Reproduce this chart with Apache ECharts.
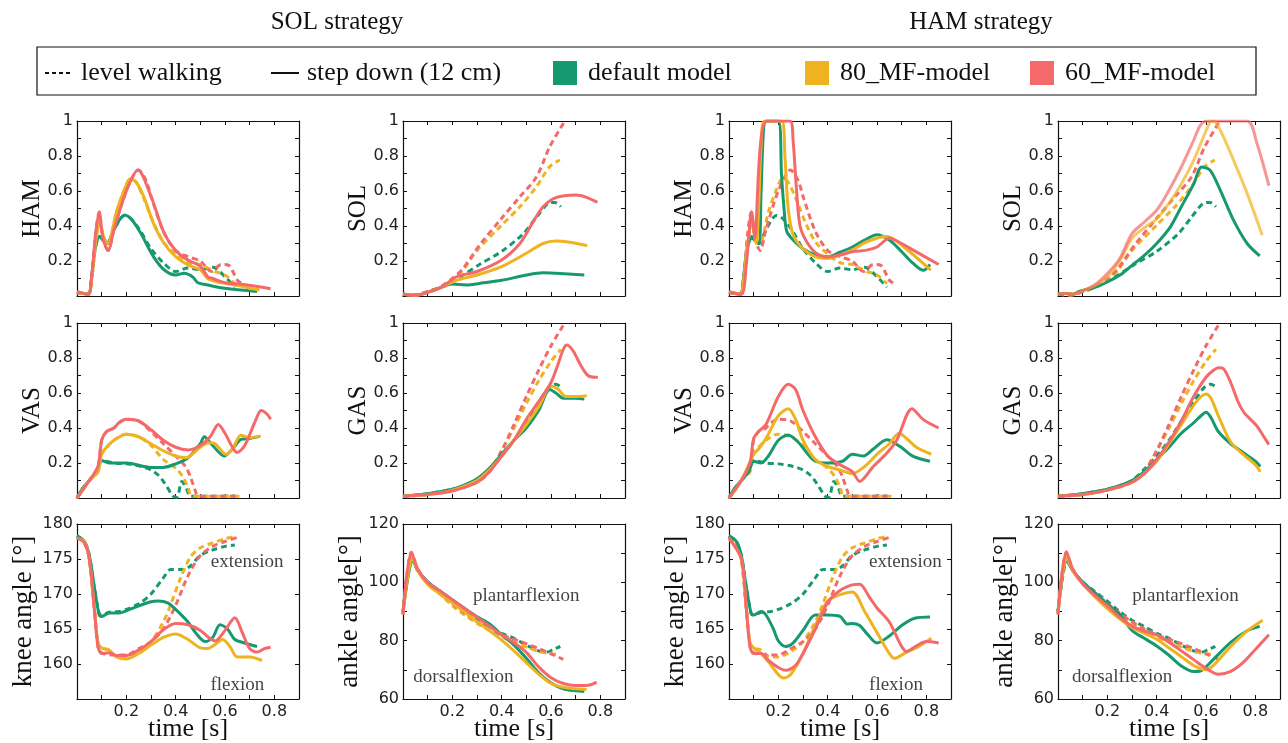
<!DOCTYPE html>
<html>
<head>
<meta charset="utf-8">
<script src="https://cdn.jsdelivr.net/npm/echarts@6/dist/echarts.min.js"></script>
<style>
  html, body { margin: 0; padding: 0; background: #fff; }
  #chart { width: 1288px; height: 743px; }
</style>
</head>
<body>
<div id="chart"></div>
<script>
// models and their colours
const models = ['default model', '80_MF-model', '60_MF-model'];
const colors = ['#16996f', '#efb320', '#f46a6a'];

// ---- level walking (same in both strategies) : [time s, value]
const lwHamDef = [[0,0.02],[0.045,0.01],[0.06,0.1],[0.075,0.28],[0.092,0.34],[0.11,0.31],[0.122,0.3],[0.15,0.38],[0.193,0.46],[0.22,0.44],[0.258,0.37],[0.3,0.27],[0.35,0.19],[0.4,0.14],[0.45,0.16],[0.5,0.15],[0.55,0.165],[0.6,0.11],[0.64,0.05]];
const lwHam80 = [[0,0.02],[0.045,0.01],[0.06,0.1],[0.075,0.3],[0.092,0.42],[0.11,0.33],[0.125,0.3],[0.16,0.48],[0.19,0.6],[0.217,0.67],[0.24,0.65],[0.27,0.56],[0.31,0.42],[0.35,0.31],[0.4,0.24],[0.45,0.19],[0.5,0.18],[0.53,0.16],[0.56,0.14],[0.6,0.12],[0.64,0.07]];
const lwHam60 = [[0,0.025],[0.045,0.01],[0.06,0.12],[0.075,0.35],[0.09,0.48],[0.105,0.33],[0.126,0.26],[0.15,0.38],[0.2,0.6],[0.25,0.72],[0.28,0.66],[0.3,0.57],[0.35,0.37],[0.4,0.26],[0.45,0.225],[0.5,0.2],[0.545,0.14],[0.585,0.18],[0.615,0.175],[0.65,0.09],[0.67,0.07]];

const lwSolDef = [[0,0.01],[0.05,0.005],[0.1,0.025],[0.15,0.05],[0.2,0.085],[0.244,0.12],[0.31,0.18],[0.4,0.255],[0.487,0.355],[0.541,0.45],[0.59,0.53],[0.615,0.535],[0.64,0.51]];
const lwSol80 = [[0,0.01],[0.05,0.005],[0.1,0.025],[0.15,0.05],[0.2,0.09],[0.244,0.15],[0.3,0.26],[0.4,0.405],[0.474,0.51],[0.541,0.625],[0.595,0.74],[0.636,0.777]];
const lwSol60 = [[0,0.01],[0.05,0.005],[0.1,0.025],[0.15,0.05],[0.2,0.1],[0.244,0.158],[0.31,0.29],[0.4,0.444],[0.474,0.567],[0.541,0.68],[0.595,0.853],[0.656,1.0]];

const lwVasDef = [[0,0],[0.02,0.05],[0.05,0.1],[0.08,0.15],[0.1,0.215],[0.15,0.2],[0.2,0.195],[0.26,0.18],[0.3,0.16],[0.33,0.13],[0.355,0.085],[0.39,0.01],[0.405,0.005],[0.425,0.095],[0.445,0.05],[0.46,0.01],[0.55,0.01],[0.64,0.012]];
const lwVas80 = [[0,0],[0.05,0.1],[0.085,0.15],[0.1,0.25],[0.12,0.29],[0.15,0.33],[0.2,0.365],[0.25,0.35],[0.3,0.3],[0.35,0.22],[0.4,0.17],[0.43,0.12],[0.45,0.06],[0.465,0.012],[0.55,0.01],[0.66,0.01]];
const lwVas60 = [[0,0],[0.05,0.1],[0.085,0.18],[0.1,0.33],[0.12,0.38],[0.15,0.4],[0.17,0.43],[0.2,0.45],[0.25,0.44],[0.3,0.38],[0.35,0.31],[0.4,0.24],[0.44,0.18],[0.46,0.12],[0.48,0.04],[0.49,0.012],[0.55,0.01],[0.66,0.01]];

const lwGasDef = [[0,0.01],[0.1,0.025],[0.2,0.05],[0.25,0.07],[0.3,0.1],[0.35,0.165],[0.4,0.24],[0.45,0.33],[0.5,0.44],[0.55,0.55],[0.595,0.635],[0.62,0.65],[0.64,0.635]];
const lwGas80 = [[0,0.01],[0.1,0.02],[0.2,0.045],[0.3,0.09],[0.35,0.15],[0.4,0.27],[0.45,0.4],[0.5,0.54],[0.55,0.67],[0.6,0.78],[0.64,0.85]];
const lwGas60 = [[0,0.01],[0.1,0.02],[0.2,0.045],[0.3,0.09],[0.35,0.15],[0.4,0.27],[0.45,0.42],[0.5,0.58],[0.55,0.73],[0.6,0.87],[0.656,1.0]];

const lwKneeDef = [[0,178.3],[0.03,177.5],[0.05,175.5],[0.07,171],[0.09,167.2],[0.1,167],[0.13,167.4],[0.17,167.5],[0.2,167.8],[0.25,168.6],[0.3,170],[0.35,172.3],[0.38,173.5],[0.43,173.5],[0.46,174],[0.5,175.5],[0.55,176.3],[0.6,176.8],[0.64,177]];
const lwKnee80 = [[0,178.2],[0.03,177.5],[0.05,175],[0.07,168],[0.085,163],[0.1,162.3],[0.13,162],[0.16,161.1],[0.2,161],[0.25,161.8],[0.3,163.2],[0.35,166],[0.38,168.5],[0.42,172.3],[0.46,175.3],[0.5,176.6],[0.55,177.3],[0.6,177.9],[0.64,178.2]];
const lwKnee60 = [[0,178.2],[0.03,177.3],[0.05,175],[0.07,168],[0.085,162.5],[0.1,161.6],[0.15,161.3],[0.2,161.3],[0.25,162.2],[0.3,163.2],[0.35,165],[0.4,168.4],[0.45,172.6],[0.5,175.5],[0.55,176.8],[0.6,177.5],[0.66,178.2]];

const lwAnkleDef = [[0,90],[0.038,107.8],[0.06,104],[0.1,100.2],[0.15,96.8],[0.2,93.5],[0.25,90],[0.3,87],[0.35,84.8],[0.4,82.5],[0.45,80.8],[0.5,78.5],[0.55,76.5],[0.58,76],[0.61,77],[0.638,78]];
const lwAnkle80 = [[0,89.5],[0.036,108.5],[0.06,104],[0.1,99.8],[0.15,96],[0.2,92],[0.25,88.8],[0.3,86],[0.35,83.5],[0.4,81.3],[0.45,79.5],[0.5,77.8],[0.55,76.3],[0.6,75.5],[0.636,75.2]];
const lwAnkle60 = [[0,89],[0.034,110.3],[0.06,104.5],[0.1,100],[0.15,96.5],[0.2,92.8],[0.25,89.5],[0.3,86.5],[0.35,84],[0.4,82],[0.45,80.5],[0.5,79],[0.55,77.3],[0.6,75.5],[0.65,73.6]];

// ---- step down, SOL strategy
const solHamDef = [[0,0.02],[0.045,0.01],[0.06,0.12],[0.075,0.28],[0.092,0.34],[0.122,0.3],[0.15,0.38],[0.193,0.463],[0.22,0.44],[0.258,0.36],[0.31,0.225],[0.353,0.15],[0.4,0.12],[0.434,0.13],[0.468,0.11],[0.49,0.076],[0.53,0.063],[0.6,0.044],[0.73,0.025]];
const solHam80 = [[0,0.02],[0.045,0.01],[0.06,0.1],[0.075,0.3],[0.092,0.415],[0.11,0.33],[0.125,0.3],[0.16,0.48],[0.19,0.6],[0.217,0.67],[0.24,0.65],[0.27,0.57],[0.31,0.415],[0.353,0.3],[0.4,0.225],[0.45,0.177],[0.5,0.15],[0.53,0.1],[0.57,0.08],[0.64,0.063],[0.74,0.034]];
const solHam60 = [[0,0.025],[0.045,0.01],[0.06,0.12],[0.075,0.35],[0.09,0.48],[0.105,0.33],[0.126,0.26],[0.15,0.38],[0.2,0.6],[0.247,0.72],[0.3,0.57],[0.353,0.36],[0.4,0.26],[0.45,0.205],[0.5,0.17],[0.53,0.11],[0.55,0.1],[0.6,0.076],[0.65,0.07],[0.72,0.057],[0.785,0.042]];

const solSolDef = [[0,0.01],[0.05,0.004],[0.108,0.025],[0.162,0.053],[0.2,0.068],[0.257,0.063],[0.31,0.072],[0.4,0.09],[0.5,0.12],[0.568,0.133],[0.62,0.13],[0.735,0.12]];
const solSol80 = [[0,0.01],[0.05,0.004],[0.108,0.025],[0.162,0.053],[0.217,0.09],[0.3,0.12],[0.4,0.168],[0.5,0.244],[0.568,0.3],[0.62,0.314],[0.677,0.307],[0.747,0.288]];
const solSol60 = [[0,0.01],[0.05,0.004],[0.108,0.025],[0.162,0.055],[0.217,0.11],[0.3,0.14],[0.4,0.206],[0.474,0.3],[0.528,0.425],[0.568,0.51],[0.62,0.562],[0.7,0.577],[0.744,0.564],[0.788,0.535]];

const solVasDef = [[0,0],[0.02,0.05],[0.05,0.1],[0.08,0.15],[0.1,0.215],[0.13,0.2],[0.2,0.2],[0.3,0.175],[0.35,0.175],[0.4,0.195],[0.45,0.23],[0.5,0.31],[0.516,0.35],[0.55,0.3],[0.597,0.24],[0.63,0.28],[0.665,0.335],[0.7,0.34],[0.74,0.352]];
const solVas80 = [[0,0],[0.05,0.1],[0.085,0.15],[0.1,0.25],[0.12,0.29],[0.15,0.33],[0.2,0.365],[0.25,0.35],[0.3,0.31],[0.35,0.27],[0.4,0.24],[0.44,0.23],[0.5,0.29],[0.535,0.316],[0.56,0.31],[0.604,0.25],[0.63,0.28],[0.665,0.358],[0.7,0.345],[0.745,0.355]];
const solVas60 = [[0,0],[0.05,0.1],[0.085,0.18],[0.1,0.33],[0.12,0.38],[0.15,0.4],[0.17,0.43],[0.2,0.45],[0.25,0.44],[0.3,0.39],[0.35,0.33],[0.4,0.29],[0.45,0.275],[0.5,0.3],[0.54,0.35],[0.573,0.42],[0.6,0.37],[0.63,0.29],[0.649,0.26],[0.68,0.3],[0.72,0.43],[0.747,0.5],[0.77,0.48],[0.785,0.45]];

const solGasDef = [[0,0.01],[0.1,0.025],[0.2,0.05],[0.25,0.075],[0.3,0.11],[0.35,0.17],[0.4,0.25],[0.45,0.33],[0.5,0.4],[0.55,0.5],[0.595,0.62],[0.62,0.6],[0.65,0.57],[0.7,0.57],[0.735,0.565]];
const solGas80 = [[0,0.01],[0.1,0.02],[0.2,0.045],[0.3,0.1],[0.35,0.16],[0.4,0.24],[0.45,0.33],[0.5,0.42],[0.55,0.52],[0.6,0.64],[0.63,0.62],[0.66,0.58],[0.7,0.58],[0.745,0.585]];
const solGas60 = [[0,0.01],[0.1,0.02],[0.2,0.04],[0.3,0.09],[0.35,0.15],[0.4,0.24],[0.45,0.33],[0.5,0.45],[0.55,0.55],[0.6,0.66],[0.625,0.75],[0.65,0.85],[0.665,0.875],[0.69,0.84],[0.72,0.76],[0.75,0.7],[0.78,0.69],[0.79,0.69]];

const solKneeDef = [[0,178.3],[0.03,177.5],[0.05,175.5],[0.07,171],[0.09,167],[0.1,166.8],[0.13,167.3],[0.17,167.3],[0.2,167.6],[0.25,168.3],[0.3,168.9],[0.33,169],[0.37,168.7],[0.4,167.8],[0.45,166],[0.48,164.5],[0.52,163.2],[0.55,163.8],[0.58,165.6],[0.61,165],[0.64,163.5],[0.68,163],[0.73,162.5]];
const solKnee80 = [[0,178],[0.03,177.5],[0.05,175],[0.07,168],[0.085,163],[0.1,162.3],[0.13,162],[0.16,161],[0.2,160.7],[0.25,161.5],[0.3,162.7],[0.35,163.8],[0.4,164.3],[0.45,163.5],[0.5,162.3],[0.53,162.2],[0.56,162.8],[0.59,163.5],[0.62,162.5],[0.65,161],[0.7,161],[0.75,160.5]];
const solKnee60 = [[0,178],[0.03,177.3],[0.05,175],[0.07,168],[0.085,162.5],[0.1,161.5],[0.13,161.6],[0.16,161.2],[0.2,161.2],[0.25,162],[0.3,163.2],[0.35,164.9],[0.4,165.8],[0.45,165.6],[0.5,164.8],[0.54,163.6],[0.56,163.3],[0.6,164.8],[0.64,166.6],[0.67,164.5],[0.7,162.2],[0.73,161.7],[0.76,162.2],[0.785,162.4]];

const solAnkleDef = [[0,90],[0.04,107.5],[0.06,104],[0.1,100.2],[0.15,97],[0.2,94],[0.25,91],[0.3,88.2],[0.35,85.8],[0.4,82],[0.45,78.5],[0.5,74],[0.55,69],[0.6,65.5],[0.65,63.5],[0.7,62.8],[0.735,62.6]];
const solAnkle80 = [[0,89],[0.038,108.5],[0.06,104],[0.1,99.3],[0.15,96],[0.2,93],[0.25,89.8],[0.3,86.5],[0.35,83.5],[0.4,80.2],[0.45,76.5],[0.5,72.5],[0.55,68.5],[0.6,65.3],[0.65,64],[0.7,63.5],[0.745,63.3]];
const solAnkle60 = [[0,89],[0.034,110.3],[0.06,104.5],[0.1,100],[0.15,97],[0.2,94],[0.25,91],[0.3,88],[0.35,85],[0.4,82],[0.45,79.3],[0.5,76],[0.55,71],[0.6,67.3],[0.65,65.3],[0.7,64.6],[0.75,64.7],[0.785,65.8]];

// ---- step down, HAM strategy
const hamHamDef = [[0,0.02],[0.045,0.01],[0.06,0.12],[0.075,0.28],[0.092,0.33],[0.12,0.3],[0.13,0.6],[0.14,0.95],[0.15,1],[0.2,1],[0.213,0.69],[0.223,0.5],[0.234,0.37],[0.26,0.32],[0.3,0.27],[0.35,0.234],[0.4,0.224],[0.45,0.25],[0.5,0.28],[0.55,0.32],[0.6,0.35],[0.65,0.32],[0.7,0.253],[0.747,0.186],[0.788,0.147],[0.815,0.18]];
const hamHam80 = [[0,0.02],[0.045,0.01],[0.06,0.1],[0.075,0.3],[0.092,0.42],[0.11,0.3],[0.12,0.5],[0.13,0.85],[0.145,1],[0.213,1],[0.227,0.79],[0.24,0.5],[0.26,0.35],[0.3,0.27],[0.35,0.224],[0.4,0.215],[0.45,0.234],[0.5,0.262],[0.558,0.31],[0.64,0.34],[0.7,0.29],[0.818,0.148]];
const hamHam60 = [[0,0.023],[0.05,0.01],[0.07,0.18],[0.092,0.48],[0.105,0.33],[0.119,0.69],[0.132,0.92],[0.153,1],[0.247,1],[0.26,0.885],[0.274,0.6],[0.288,0.4],[0.315,0.31],[0.355,0.243],[0.4,0.224],[0.45,0.234],[0.5,0.253],[0.558,0.262],[0.6,0.28],[0.65,0.33],[0.7,0.3],[0.747,0.262],[0.85,0.18]];

const hamSolDef = [[0,0.01],[0.03,0.015],[0.06,0.01],[0.088,0.027],[0.15,0.05],[0.2,0.08],[0.25,0.118],[0.3,0.175],[0.35,0.232],[0.4,0.3],[0.455,0.394],[0.5,0.51],[0.55,0.64],[0.583,0.737],[0.617,0.718],[0.658,0.604],[0.712,0.432],[0.767,0.3],[0.818,0.229]];
const hamSol80 = [[0,0.01],[0.03,0.015],[0.06,0.01],[0.1,0.03],[0.15,0.06],[0.2,0.108],[0.25,0.2],[0.3,0.33],[0.35,0.39],[0.4,0.44],[0.45,0.53],[0.5,0.64],[0.55,0.775],[0.59,0.91],[0.617,0.994],[0.63,1],[0.658,0.947],[0.712,0.775],[0.767,0.585],[0.828,0.347]];
const hamSol60 = [[0,0.01],[0.03,0.015],[0.06,0.01],[0.1,0.03],[0.15,0.065],[0.2,0.128],[0.25,0.213],[0.3,0.356],[0.35,0.423],[0.4,0.49],[0.45,0.604],[0.5,0.737],[0.55,0.89],[0.577,0.975],[0.604,1],[0.767,1],[0.807,0.87],[0.855,0.63]];

const hamVasDef = [[0,0],[0.02,0.05],[0.05,0.1],[0.08,0.15],[0.1,0.21],[0.13,0.2],[0.16,0.24],[0.2,0.33],[0.24,0.36],[0.28,0.32],[0.32,0.25],[0.35,0.21],[0.4,0.2],[0.46,0.21],[0.5,0.25],[0.545,0.24],[0.585,0.28],[0.64,0.333],[0.693,0.295],[0.747,0.238],[0.815,0.21]];
const hamVas80 = [[0,0],[0.05,0.1],[0.1,0.25],[0.12,0.28],[0.15,0.34],[0.2,0.47],[0.24,0.51],[0.27,0.45],[0.3,0.33],[0.35,0.22],[0.4,0.18],[0.45,0.16],[0.5,0.14],[0.55,0.18],[0.6,0.25],[0.65,0.31],[0.69,0.37],[0.72,0.34],[0.76,0.29],[0.82,0.25]];
const hamVas60 = [[0,0],[0.05,0.1],[0.085,0.2],[0.1,0.34],[0.12,0.38],[0.15,0.42],[0.2,0.58],[0.24,0.65],[0.27,0.62],[0.3,0.5],[0.35,0.35],[0.4,0.24],[0.45,0.19],[0.5,0.15],[0.53,0.095],[0.585,0.18],[0.64,0.257],[0.68,0.33],[0.742,0.51],[0.788,0.448],[0.85,0.4]];

const hamGasDef = [[0,0.01],[0.1,0.025],[0.2,0.05],[0.3,0.1],[0.35,0.15],[0.4,0.22],[0.45,0.29],[0.5,0.37],[0.55,0.43],[0.58,0.47],[0.6,0.49],[0.62,0.46],[0.65,0.38],[0.7,0.31],[0.75,0.26],[0.8,0.21],[0.82,0.18]];
const hamGas80 = [[0,0.01],[0.1,0.02],[0.2,0.045],[0.3,0.09],[0.35,0.14],[0.4,0.21],[0.45,0.31],[0.5,0.42],[0.55,0.53],[0.58,0.58],[0.6,0.595],[0.62,0.57],[0.65,0.47],[0.7,0.32],[0.75,0.25],[0.8,0.19],[0.82,0.15]];
const hamGas60 = [[0,0.01],[0.1,0.02],[0.2,0.045],[0.3,0.09],[0.35,0.14],[0.4,0.22],[0.45,0.32],[0.5,0.44],[0.55,0.58],[0.6,0.69],[0.63,0.73],[0.65,0.745],[0.67,0.74],[0.7,0.66],[0.73,0.55],[0.753,0.49],[0.78,0.45],[0.807,0.41],[0.83,0.36],[0.855,0.305]];

const hamKneeDef = [[0,178.3],[0.03,177.5],[0.05,175.5],[0.07,171],[0.09,167.2],[0.1,167],[0.13,167.5],[0.15,167],[0.18,165],[0.2,163.3],[0.23,162.5],[0.26,163],[0.3,164.8],[0.35,167],[0.4,167],[0.45,166.8],[0.48,165.7],[0.5,165.8],[0.53,165.5],[0.56,164.3],[0.6,163],[0.65,164],[0.7,165.5],[0.75,166.5],[0.815,166.7]];
const hamKnee80 = [[0,178],[0.05,175],[0.07,168],[0.085,163],[0.1,162.3],[0.13,161.5],[0.16,160.3],[0.2,158.5],[0.22,158],[0.25,158.5],[0.3,161.5],[0.35,165.5],[0.4,169],[0.45,169.9],[0.5,170.3],[0.55,167.5],[0.6,164.5],[0.65,161.5],[0.67,160.8],[0.72,161.7],[0.77,162.5],[0.82,163.7]];
const hamKnee60 = [[0,178],[0.05,175],[0.07,168],[0.085,162.5],[0.1,161.5],[0.13,161.5],[0.16,160.5],[0.2,159.5],[0.23,159.1],[0.27,159.8],[0.3,161.5],[0.35,165],[0.4,168.8],[0.45,170.5],[0.5,171.3],[0.53,171.4],[0.57,169.5],[0.6,168],[0.65,166],[0.7,162.5],[0.72,161.8],[0.76,162.6],[0.8,163.2],[0.85,163]];

const hamAnkleDef = [[0,90],[0.035,107.5],[0.06,104],[0.1,100],[0.15,96.3],[0.2,92.5],[0.25,89],[0.3,83.5],[0.35,80.8],[0.4,78.2],[0.45,75],[0.5,71.3],[0.55,69.4],[0.577,69.6],[0.63,73.6],[0.7,79.4],[0.767,83.4],[0.818,84.9]];
const hamAnkle80 = [[0,89.5],[0.035,108.5],[0.06,104],[0.1,99.5],[0.15,95],[0.2,91],[0.25,87.5],[0.3,84.5],[0.35,82.5],[0.4,80.5],[0.45,77.5],[0.5,74.5],[0.55,71.5],[0.6,70],[0.63,71.5],[0.7,78],[0.77,83.5],[0.83,87]];
const hamAnkle60 = [[0,89],[0.034,110.5],[0.06,104.5],[0.1,99.5],[0.15,95.5],[0.2,92],[0.25,88],[0.3,85],[0.35,83.3],[0.4,82],[0.45,79.5],[0.5,76.5],[0.55,73.5],[0.6,70.5],[0.65,68.5],[0.7,69.5],[0.75,72.5],[0.8,77],[0.855,82]];

// text notes inside the joint-angle panels: [text, time, value]
const kneeNotes = [['extension', 0.69, 174.5], ['flexion', 0.65, 157]];
const ankleNotes = [['plantarflexion', 0.5, 95.3], ['dorsalflexion', 0.245, 67.7]];

const panels = [
  { name: 'HAM', lw: [lwHamDef, lwHam80, lwHam60], sd: [solHamDef, solHam80, solHam60] },
  { name: 'SOL', lw: [lwSolDef, lwSol80, lwSol60], sd: [solSolDef, solSol80, solSol60] },
  { name: 'HAM', lw: [lwHamDef, lwHam80, lwHam60], sd: [hamHamDef, hamHam80, hamHam60] },
  { name: 'SOL', lw: [lwSolDef, lwSol80, lwSol60], sd: [hamSolDef, hamSol80, hamSol60], fade: true },
  { name: 'VAS', lw: [lwVasDef, lwVas80, lwVas60], sd: [solVasDef, solVas80, solVas60] },
  { name: 'GAS', lw: [lwGasDef, lwGas80, lwGas60], sd: [solGasDef, solGas80, solGas60] },
  { name: 'VAS', lw: [lwVasDef, lwVas80, lwVas60], sd: [hamVasDef, hamVas80, hamVas60] },
  { name: 'GAS', lw: [lwGasDef, lwGas80, lwGas60], sd: [hamGasDef, hamGas80, hamGas60] },
  { name: 'knee angle [°]', lw: [lwKneeDef, lwKnee80, lwKnee60], sd: [solKneeDef, solKnee80, solKnee60], kind: 'knee', notes: kneeNotes },
  { name: 'ankle angle[°]', lw: [lwAnkleDef, lwAnkle80, lwAnkle60], sd: [solAnkleDef, solAnkle80, solAnkle60], kind: 'ankle', notes: ankleNotes },
  { name: 'knee angle [°]', lw: [lwKneeDef, lwKnee80, lwKnee60], sd: [hamKneeDef, hamKnee80, hamKnee60], kind: 'knee', notes: [['extension', 0.715, 174.5], ['flexion', 0.677, 157]] },
  { name: 'ankle angle[°]', lw: [lwAnkleDef, lwAnkle80, lwAnkle60], sd: [hamAnkleDef, hamAnkle80, hamAnkle60], kind: 'ankle', notes: [['plantarflexion', 0.517, 95.3], ['dorsalflexion', 0.26, 67.7]] }
];

const colLeft = [77, 403, 729, 1058];
const rowTop = [121, 323, 524];
const W = 222, H = 175;
const SERIF = '"Liberation Serif", "DejaVu Serif", serif';
const SANS = '"DejaVu Sans", sans-serif';
const ink = '#111';

const yScales = {
  act: { min: 0, max: 1, interval: 0.1, fmt: v => { const k = Math.round(v * 10); return k === 10 ? '1' : (k > 0 && k % 2 === 0 ? (k / 10).toFixed(1) : ''); } },
  knee: { min: 155, max: 180, interval: 5, fmt: v => (v > 155 ? String(v) : '') },
  ankle: { min: 60, max: 120, interval: 10, fmt: v => (v % 20 === 0 ? String(v) : '') }
};

const option = {
  animation: false,
  backgroundColor: '#fff',
  grid: [], xAxis: [], yAxis: [], series: [], legend: [],
  graphic: [
    { type: 'text', x: 337, y: 22, style: { text: 'SOL strategy', font: '25px ' + SERIF, fill: ink, align: 'center', verticalAlign: 'middle' } },
    { type: 'text', x: 981, y: 22, style: { text: 'HAM strategy', font: '25px ' + SERIF, fill: ink, align: 'center', verticalAlign: 'middle' } },
    { type: 'rect', shape: { x: 37, y: 47, width: 1219, height: 48 }, style: { fill: 'none', stroke: ink, lineWidth: 1.2 } }
  ]
};

const boxLine = { show: true, onZero: false, lineStyle: { color: ink, width: 1.2 } };
const tick = { show: true, inside: true, length: 4, lineStyle: { color: ink, width: 1 } };

panels.forEach((p, i) => {
  const row = Math.floor(i / 4), col = i % 4;
  const bottom = row === 2;
  const ys = yScales[p.kind || 'act'];
  option.grid.push({ left: colLeft[col], top: rowTop[row], width: W, height: H, outerBoundsMode: 'none' });

  option.xAxis.push({
    gridIndex: i, type: 'value', min: 0, max: 0.9, interval: 0.1, position: 'bottom',
    axisLine: boxLine, axisTick: tick, splitLine: { show: false },
    axisLabel: {
      show: bottom, margin: 5, fontFamily: SANS, fontSize: 16, color: '#222',
      formatter: v => { const k = Math.round(v * 10); return k > 0 && k % 2 === 0 ? (k / 10).toFixed(1) : ''; }
    },
    name: bottom ? 'time [s]' : '', nameLocation: 'middle', nameGap: 17, nameMoveOverlap: false,
    nameTextStyle: { fontFamily: SERIF, fontSize: 26, color: ink }
  });
  option.xAxis.push({
    gridIndex: i, type: 'value', min: 0, max: 0.9, interval: 0.1, position: 'top',
    axisLine: boxLine, axisTick: tick, axisLabel: { show: false }, splitLine: { show: false }
  });
  option.yAxis.push({
    gridIndex: i, type: 'value', min: ys.min, max: ys.max, interval: ys.interval, position: 'left',
    axisLine: boxLine, axisTick: tick, splitLine: { show: false },
    axisLabel: { margin: 4, fontFamily: SANS, fontSize: 16, color: '#222', formatter: ys.fmt },
    name: p.name, nameLocation: 'middle', nameGap: bottom ? 40 : 32, nameMoveOverlap: false,
    nameTextStyle: { fontFamily: SERIF, fontSize: bottom ? 27 : 25, color: ink }
  });
  option.yAxis.push({
    gridIndex: i, type: 'value', min: ys.min, max: ys.max, interval: ys.interval, position: 'right',
    axisLine: boxLine, axisTick: tick, axisLabel: { show: false }, splitLine: { show: false }
  });

  const ax = { xAxisIndex: 2 * i, yAxisIndex: 2 * i };
  // level walking first (dashed), then step down (solid)
  models.forEach((m, k) => {
    option.series.push(Object.assign({
      type: 'line', data: p.lw[k], symbol: 'none', smooth: 0.3, silent: true,
      lineStyle: { color: colors[k], width: 3, type: [6, 4] }, z: 2
    }, ax));
  });
  models.forEach((m, k) => {
    option.series.push(Object.assign({
      type: 'line', data: p.sd[k], symbol: 'none', smooth: 0.3, silent: true,
      lineStyle: { color: colors[k], width: 3, opacity: (p.fade && k > 0) ? 0.7 : 1 }, z: 3
    }, ax));
  });
  if (p.notes) {
    option.series.push(Object.assign({
      type: 'scatter', silent: true, symbolSize: 1, itemStyle: { color: 'rgba(0,0,0,0)' },
      data: p.notes.map(n => ({ value: [n[1], n[2]], name: n[0] })),
      label: { show: true, position: 'inside', formatter: d => d.name, fontFamily: SERIF, fontSize: 19, color: ink },
      z: 5
    }, ax));
  }
});

// legend-only series
const legendItems = [
  { name: 'level walking', left: 44, lineStyle: { color: ink, width: 2, type: [4, 3] } },
  { name: 'step down (12 cm)', left: 270, lineStyle: { color: ink, width: 2 } },
  { name: models[0], left: 553, color: colors[0] },
  { name: models[1], left: 805, color: colors[1] },
  { name: models[2], left: 1030, color: colors[2] }
];
legendItems.forEach(it => {
  const isRect = !!it.color;
  option.series.push({
    type: 'line', name: it.name, data: [], symbol: 'none', xAxisIndex: 0, yAxisIndex: 0,
    itemStyle: { color: isRect ? it.color : 'rgba(0,0,0,0)' },
    lineStyle: it.lineStyle || { color: it.color, width: 2 }
  });
  option.legend.push({
    data: [isRect ? { name: it.name, icon: 'rect' } : { name: it.name }],
    left: it.left - 5, top: 55, padding: 5, selectedMode: false,
    itemWidth: isRect ? 24 : 28, itemHeight: 24,
    itemStyle: isRect ? {} : { color: 'rgba(0,0,0,0)', borderWidth: 0 },
    textStyle: { fontFamily: SERIF, fontSize: 26, color: ink, padding: [0, 0, 0, isRect ? 6 : 3] }
  });
});

const chart = echarts.init(document.getElementById('chart'), null, { renderer: 'canvas' });
chart.setOption(option);
</script>
</body>
</html>
